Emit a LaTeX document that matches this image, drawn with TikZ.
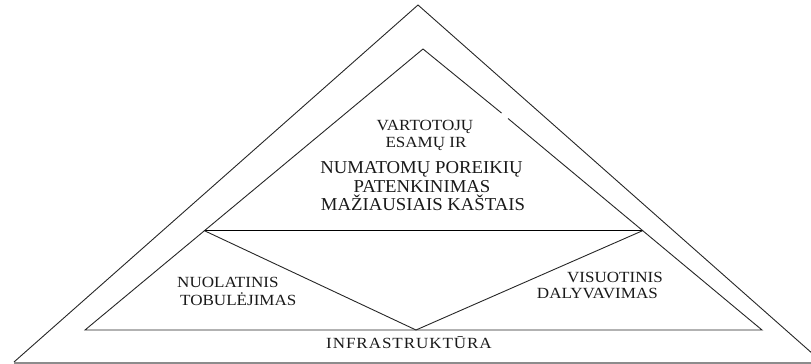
\documentclass[tikz,border=0pt]{standalone}
\usepackage{fontspec}
\setmainfont{Liberation Serif}
\newfontfamily\smallf[FakeStretch=1.1]{Liberation Serif}
\newfontfamily\infraf[FakeStretch=1.1,LetterSpace=6]{Liberation Serif}
\newfontfamily\bigf[FakeStretch=1.03]{Liberation Serif}
\begin{document}
\begin{tikzpicture}[x=1pt,y=-1pt,
  edge/.style={draw=black!85,line width=0.9pt},
  midline/.style={draw=black,line width=1.4pt},
  baseln/.style={draw=black!45,line width=2.2pt},
  lbl/.style={inner sep=0pt,anchor=base,text=black!90},
  sm/.style={lbl,font=\smallf\fontsize{15.5}{17}\selectfont},
  bg/.style={lbl,font=\bigf\fontsize{18.2}{20}\selectfont}]
\useasboundingbox (0,0) rectangle (811,364);
% outer triangle
\coordinate (oA) at (418,5);
\coordinate (oL) at (14,362);
\coordinate (oR) at (822,362);
\coordinate (bL) at (14,363);
\coordinate (bR) at (811,363);
\begin{scope}
\clip (0,0) rectangle (811,364);
\draw[edge] (oL) -- (oA) -- (oR);
\end{scope}
\draw[baseln] (bL) -- (bR);
% inner triangle
\coordinate (iA) at (423,49);
\coordinate (iL) at (85,330);
\coordinate (iR) at (762,330);
\coordinate (g1) at (501.5,113);
\coordinate (g2) at (508,118.5);
\draw[edge] (g1) -- (iA) -- (iL) -- (iR) -- (g2);
% middle line and V
\coordinate (mL) at (204,230.5);
\coordinate (mR) at (643,230.5);
\coordinate (vB) at (416,330);
\draw[midline] (mL) -- (mR);
\draw[edge] (mL) -- (vB) -- (mR);
% texts
\node[sm] (t1) at (425,130) {VARTOTOJŲ};
\node[sm] (t2) at (426,147) {ESAMŲ IR};
\node[bg] (t3) at (421.5,173) {NUMATOMŲ POREIKIŲ};
\node[bg] (t4) at (422,192) {PATENKINIMAS};
\node[bg] (t5) at (423,210) {MAŽIAUSIAIS KAŠTAIS};
\node[sm,anchor=base west] (t6) at (177,287) {NUOLATINIS};
\node[sm,anchor=base west] (t7) at (180,305) {TOBULĖJIMAS};
\node[sm,anchor=base east] (t8) at (663,282) {VISUOTINIS};
\node[sm,anchor=base east] (t9) at (658,298) {DALYVAVIMAS};
\node[lbl,font=\infraf\fontsize{15.5}{17}\selectfont] (t10) at (409,348) {INFRASTRUKTŪRA};
\end{tikzpicture}
\end{document}
